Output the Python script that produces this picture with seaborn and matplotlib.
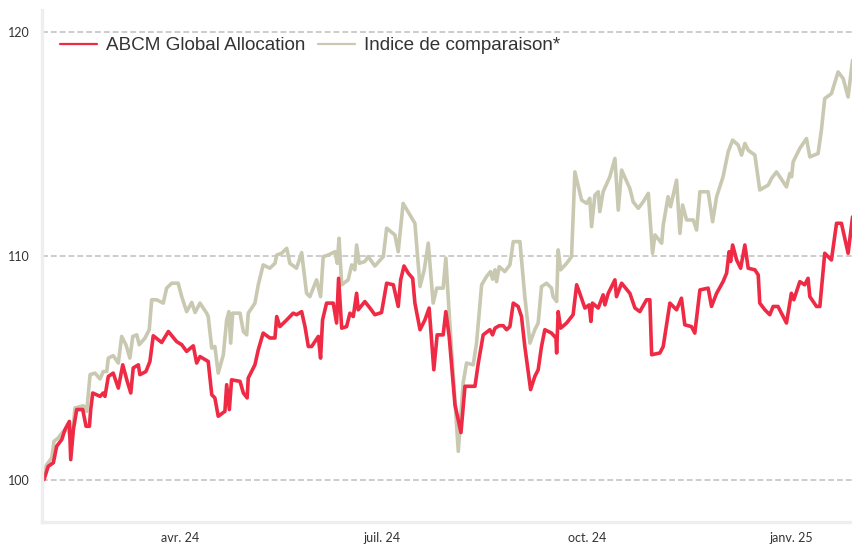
import pandas as pd
import matplotlib
matplotlib.use("Agg")
import matplotlib.pyplot as plt
import seaborn as sns

# --------------------------------------------------------------
# DATA (base 100 au 31/01/2024, x = jours depuis cette date)
# --------------------------------------------------------------
start_date = "2024-01-31"

abcm_day = [
    0, 1.9, 4.2, 5.7, 8.0, 9.4, 11.4, 12.0, 13.2, 14.7,
    17.4, 18.9, 20.4, 21.0, 21.9, 25.2, 26.6, 27.4, 28.9, 31.1,
    33.4, 35.4, 37.4, 39.0, 40.1, 42.4, 43.1, 45.8, 47.6, 49.1,
    52.9, 55.9, 59.6, 61.9, 64.1, 67.1, 68.6, 70.1, 73.8, 75.4,
    76.8, 78.3, 81.3, 82.1, 83.3, 84.3, 88.1, 89.6, 91.3, 91.8,
    94.8, 96.3, 98.5, 101.5, 103.8, 104.6, 106.0, 109.1, 112.0, 113.5,
    115.8, 117.3, 118.8, 120.3, 123.3, 124.3, 125.2, 127.0, 130.0, 131.5,
    132.4, 133.8, 136.0, 137.5, 139.0, 140.5, 141.2, 144.2, 146.5, 148.7,
    151.7, 154.0, 157.0, 159.2, 160.3, 161.8, 163.7, 165.7, 166.7, 169.0,
    171.2, 173.1, 175.2, 176.7, 179.4, 180.6, 182.1, 184.7, 187.4, 189.2,
    193.7, 195.2, 197.4, 200.4, 201.6, 202.7, 204.6, 206.4, 207.9, 209.4,
    210.9, 213.1, 214.6, 216.1, 218.7, 220.6, 222.1, 223.6, 225.1, 228.1,
    230.1, 230.4, 231.1, 232.2, 234.9, 237.8, 239.4, 240.8, 243.1, 245.0,
    245.8, 246.5, 249.1, 251.3, 252.1, 253.6, 256.6, 257.3, 259.6, 263.3,
    265.6, 267.8, 270.8, 272.3, 273.1, 276.8, 278.3, 281.3, 284.3, 286.5,
    288.0, 291.0, 292.5, 294.8, 298.5, 300.0, 302.3, 305.2, 306.8, 307.9,
    308.6, 309.5, 311.3, 313.1, 315.0, 316.5, 319.5, 321.0, 321.7, 324.0,
    326.2, 327.7, 329.9, 333.7, 335.9, 337.0, 339.7, 341.9, 343.4, 344.2,
    347.2, 348.7, 350.9, 353.9, 356.2, 358.4, 361.4, 363.4,
]
abcm = [
    100.00, 100.59, 100.75, 101.49, 101.79, 102.23, 102.60, 100.89, 102.23, 103.13,
    103.13, 102.38, 102.38, 103.13, 103.87, 103.72, 103.87, 103.72, 104.61, 104.76,
    104.09, 105.13, 104.39, 103.87, 104.99, 105.13, 104.69, 104.83, 105.28, 106.43,
    106.13, 106.62, 106.17, 106.03, 105.73, 105.98, 105.21, 105.50, 105.28, 103.79,
    103.65, 102.83, 103.05, 104.24, 103.13, 104.46, 104.39, 103.87, 103.65, 104.54,
    105.13, 105.80, 106.55, 106.33, 106.33, 107.29, 106.84, 107.14, 107.44, 107.37,
    107.51, 106.84, 105.95, 105.95, 106.40, 105.43, 107.14, 107.89, 107.89, 107.00,
    109.00, 106.77, 106.84, 107.44, 107.29, 108.33, 107.59, 107.96, 107.67, 107.37,
    107.47, 108.78, 108.71, 107.74, 108.93, 109.55, 109.23, 109.00, 107.89, 106.70,
    107.14, 107.67, 104.91, 106.47, 106.47, 107.51, 106.40, 103.35, 102.10, 104.17,
    104.17, 105.21, 106.47, 106.70, 106.47, 106.77, 106.88, 106.88, 106.70, 106.84,
    107.89, 107.74, 107.29, 105.95, 104.02, 104.61, 104.91, 105.95, 106.70, 106.55,
    106.33, 105.66, 107.51, 106.77, 107.00, 107.37, 108.71, 108.33, 107.67, 107.81,
    107.07, 107.89, 107.67, 108.26, 107.81, 108.33, 108.93, 108.18, 108.78, 108.33,
    107.67, 107.51, 108.04, 108.04, 105.58, 105.66, 105.95, 107.89, 107.59, 108.11,
    106.92, 106.84, 106.55, 108.48, 108.56, 107.74, 108.33, 108.85, 109.23, 110.19,
    109.75, 110.49, 109.82, 109.45, 110.49, 109.45, 109.38, 109.15, 107.89, 107.59,
    107.37, 107.74, 107.74, 107.00, 108.33, 108.04, 108.85, 108.71, 109.00, 108.18,
    107.74, 107.74, 110.12, 109.82, 111.46, 111.46, 110.12, 111.75,
]

indice_day = [
    0, 1.0, 3.5, 4.5, 6.4, 8.7, 10.9, 12.4, 13.9, 17.7,
    19.2, 20.7, 22.9, 25.2, 26.6, 28.2, 28.9, 31.1, 33.4, 34.9,
    36.8, 38.6, 39.9, 41.7, 42.8, 45.4, 47.3, 48.4, 50.6, 53.6,
    55.1, 57.4, 60.3, 61.9, 64.1, 66.4, 67.9, 70.1, 73.1, 73.8,
    75.4, 76.8, 78.3, 80.6, 82.1, 83.1, 83.9, 84.8, 88.1, 89.6,
    91.1, 91.8, 94.8, 96.3, 98.5, 101.5, 103.8, 104.6, 106.8, 109.1,
    110.5, 113.5, 115.8, 118.0, 119.5, 122.5, 124.3, 125.5, 127.7, 130.8,
    131.8, 132.6, 133.8, 136.7, 138.3, 139.7, 140.5, 141.7, 144.2, 145.7,
    148.7, 152.5, 154.0, 157.7, 159.2, 161.4, 166.7, 169.0, 170.9, 172.7,
    174.9, 176.5, 179.4, 180.6, 182.1, 186.2, 188.4, 189.9, 192.9, 194.4,
    196.7, 198.9, 200.7, 201.6, 202.7, 203.4, 204.6, 207.1, 209.4, 210.9,
    213.9, 216.1, 218.4, 220.6, 222.1, 223.6, 225.9, 228.1, 228.8, 230.4,
    231.1, 232.2, 234.9, 237.1, 238.6, 241.6, 243.9, 245.3, 246.1, 247.6,
    249.1, 249.8, 251.3, 254.3, 256.6, 258.1, 259.6, 263.3, 264.8, 267.1,
    269.3, 271.6, 273.5, 274.6, 277.6, 278.3, 280.5, 281.6, 284.3, 285.8,
    287.0, 288.8, 291.8, 293.3, 294.8, 298.5, 300.5, 302.3, 305.2, 307.5,
    309.5, 312.0, 313.5, 315.0, 316.5, 319.5, 321.7, 325.5, 327.0, 329.2,
    330.7, 333.7, 335.2, 336.0, 336.7, 339.7, 342.7, 344.2, 347.9, 349.4,
    350.9, 353.9, 356.9, 359.2, 361.4, 363.4,
]
indice = [
    100.00, 100.63, 100.97, 101.71, 101.86, 102.16, 102.23, 101.56, 103.20, 103.30,
    103.05, 104.69, 104.76, 104.50, 104.83, 104.83, 105.43, 105.54, 105.21, 106.40,
    106.03, 105.43, 106.40, 106.47, 106.03, 106.33, 106.70, 108.04, 108.04, 107.89,
    108.56, 108.78, 108.78, 108.18, 107.51, 107.92, 107.47, 107.89, 107.44, 107.29,
    105.88, 105.95, 104.76, 105.58, 107.14, 107.51, 106.10, 107.44, 107.44, 106.62,
    106.47, 107.44, 107.89, 108.71, 109.60, 109.45, 109.67, 110.04, 110.12, 110.34,
    109.67, 109.45, 110.15, 108.33, 108.18, 108.93, 108.18, 109.97, 110.04, 110.19,
    109.67, 110.79, 108.71, 108.93, 109.60, 109.38, 110.49, 109.67, 109.75, 109.97,
    109.55, 109.97, 111.24, 110.94, 110.19, 112.35, 111.46, 108.63, 109.38, 110.57,
    107.89, 108.56, 108.56, 109.90, 107.44, 101.26, 104.32, 105.21, 105.13, 106.10,
    108.71, 109.08, 109.30, 108.96, 109.38, 108.85, 109.52, 109.30, 109.60, 110.64,
    110.64, 108.18, 106.10, 106.70, 107.00, 108.63, 108.78, 108.56, 108.18, 107.96,
    110.27, 109.38, 109.67, 109.97, 113.76, 112.50, 112.35, 112.58, 111.31, 112.72,
    112.87, 111.98, 112.87, 113.54, 114.36, 112.05, 113.84, 113.02, 112.42, 112.13,
    112.42, 112.80, 110.12, 110.94, 110.57, 111.38, 112.65, 112.20, 113.39, 111.01,
    112.28, 111.61, 111.61, 111.16, 112.87, 112.87, 111.53, 112.65, 113.54, 114.66,
    115.18, 114.96, 114.51, 115.03, 114.73, 114.51, 112.95, 113.17, 113.47, 113.76,
    113.54, 113.09, 113.69, 113.54, 114.21, 114.81, 115.25, 114.43, 114.58, 115.63,
    117.04, 117.26, 118.23, 117.93, 117.11, 118.75,
]

tick_dates = ["2024-04-01", "2024-07-01", "2024-10-01", "2025-01-01"]
tick_labels = ["avr. 24", "juil. 24", "oct. 24", "janv. 25"]
y_ticks = [100, 110, 120]

RED = "#ee2a45"
SAND = "#c9c8b1"

# --------------------------------------------------------------
# Plot
# --------------------------------------------------------------
sns.set_theme(style="white")
plt.rcParams["font.family"] = ["Liberation Sans", "DejaVu Sans"]

t0 = pd.Timestamp(start_date)
abcm_dates = t0 + pd.to_timedelta(abcm_day, unit="D")
indice_dates = t0 + pd.to_timedelta(indice_day, unit="D")

fig = plt.figure(figsize=(8.53, 5.45), dpi=100)
ax = fig.add_axes([42 / 853, 23 / 545, 811 / 853, 512 / 545])

sns.lineplot(x=indice_dates, y=indice, ax=ax, color=SAND, linewidth=2.6,
             estimator=None, sort=False, label="Indice de comparaison*")
sns.lineplot(x=abcm_dates, y=abcm, ax=ax, color=RED, linewidth=2.6,
             estimator=None, sort=False, label="ABCM Global Allocation")

ax.set_xlim(t0 - pd.Timedelta(days=0.9), t0 + pd.Timedelta(days=363.6))
ax.set_ylim(98.1, 121.0)

ax.set_yticks(y_ticks)
ax.set_xticks(pd.to_datetime(tick_dates), tick_labels)
ax.tick_params(axis="both", length=0, labelcolor="#333333")
ax.tick_params(axis="y", pad=9)
ax.tick_params(axis="x", pad=7)
for lbl in ax.get_xticklabels() + ax.get_yticklabels():
    lbl.set_fontfamily("Lato")
    lbl.set_fontsize(9)

ax.set_xlabel("")
ax.set_ylabel("")

ax.yaxis.grid(True, color="#c4c4c4", linewidth=1.2, linestyle=(0, (3.5, 1.8)))
ax.xaxis.grid(False)
ax.set_axisbelow(True)

for side in ["top", "right"]:
    ax.spines[side].set_visible(False)
for side in ["left", "bottom"]:
    ax.spines[side].set_color("#eeeeee")
    ax.spines[side].set_linewidth(2.4)

# Legend: ABCM first
handles, labels = ax.get_legend_handles_labels()
order = [labels.index("ABCM Global Allocation"), labels.index("Indice de comparaison*")]
leg = ax.legend(
    [handles[i] for i in order],
    [labels[i] for i in order],
    loc="upper left",
    bbox_to_anchor=(0.022, 0.947),
    ncol=2,
    frameon=False,
    fontsize=13.6,
    handlelength=1.95,
    handletextpad=0.5,
    columnspacing=0.65,
    borderpad=0,
    borderaxespad=0,
)
for line in leg.get_lines():
    line.set_linewidth(1.6)
for txt in leg.get_texts():
    txt.set_color("#333333")

fig.savefig("out.png", dpi=100)
plt.close(fig)
